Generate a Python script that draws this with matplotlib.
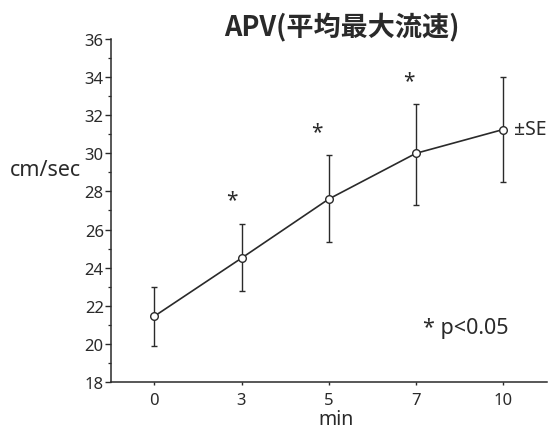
import matplotlib
matplotlib.use("Agg")
import matplotlib.pyplot as plt
from matplotlib.ticker import MultipleLocator

plt.rcParams['font.family'] = ['Noto Sans', 'Noto Sans CJK JP', 'DejaVu Sans']

# data
minutes = ["0", "3", "5", "7", "10"]
apv_mean = [21.45, 24.5, 27.6, 30.0, 31.25]
se_upper = [23.0, 26.3, 29.9, 32.6, 34.0]
se_lower = [19.9, 22.75, 25.35, 27.3, 28.5]

# significance marks (x in category units, y in cm/sec)
star_x = [0.89, 1.86, 2.92]
star_y = [27.7, 31.25, 33.95]

ink = "#2a2a2a"

fig = plt.figure(figsize=(5.55, 4.31), dpi=100)
ax = fig.add_axes([0.1995, 0.1114, 0.7856, 0.7958])

pos = list(range(len(minutes)))
yerr = [[m - lo for m, lo in zip(apv_mean, se_lower)],
        [hi - m for m, hi in zip(apv_mean, se_upper)]]

ax.errorbar(pos, apv_mean, yerr=yerr, color=ink, lw=1.2, elinewidth=1.0,
            capsize=2, capthick=1.0, marker="o", markersize=5.5,
            markerfacecolor="white", markeredgecolor=ink, markeredgewidth=1.0,
            zorder=3)

for sx, sy in zip(star_x, star_y):
    ax.text(sx, sy, "*", ha="center", va="center_baseline", fontsize=15,
            color=ink)

ax.set_xlim(-0.5, 4.5)
ax.set_ylim(18, 36)
ax.set_xticks(pos)
ax.set_xticklabels(minutes)
ax.yaxis.set_major_locator(MultipleLocator(2))
ax.yaxis.set_minor_locator(MultipleLocator(1))

for side in ["top", "right"]:
    ax.spines[side].set_visible(False)
for side in ["left", "bottom"]:
    ax.spines[side].set_color(ink)
    ax.spines[side].set_linewidth(1.1)

ax.tick_params(axis="y", which="major", length=4, width=1.0, color=ink,
               labelsize=12, labelcolor=ink, pad=1)
ax.tick_params(axis="y", which="minor", length=2.5, width=0.9, color=ink)
ax.tick_params(axis="x", which="major", length=2, width=1.0, color=ink,
               labelsize=12, labelcolor=ink, pad=5)

# annotations
ax.text(4.12, 31.3, "±SE", ha="left", va="center", fontsize=14, color=ink)
ax.text(3.08, 20.85, "* p<0.05", ha="left", va="center", fontsize=15.5,
        color=ink)

fig.text(342 / 555, 1 - 28 / 431, "APV(平均最大流速)", ha="center", va="center",
         fontsize=19.5, fontweight="bold", family=["Noto Sans CJK JP"],
         color=ink)
fig.text(10 / 555, 1 - 170 / 431, "cm/sec", ha="left", va="center",
         fontsize=15.5, color=ink)
fig.text(336 / 555, 1 / 431, "min", ha="center", va="bottom",
         fontsize=14, color=ink)

fig.savefig("out.png", dpi=100, facecolor="white")
